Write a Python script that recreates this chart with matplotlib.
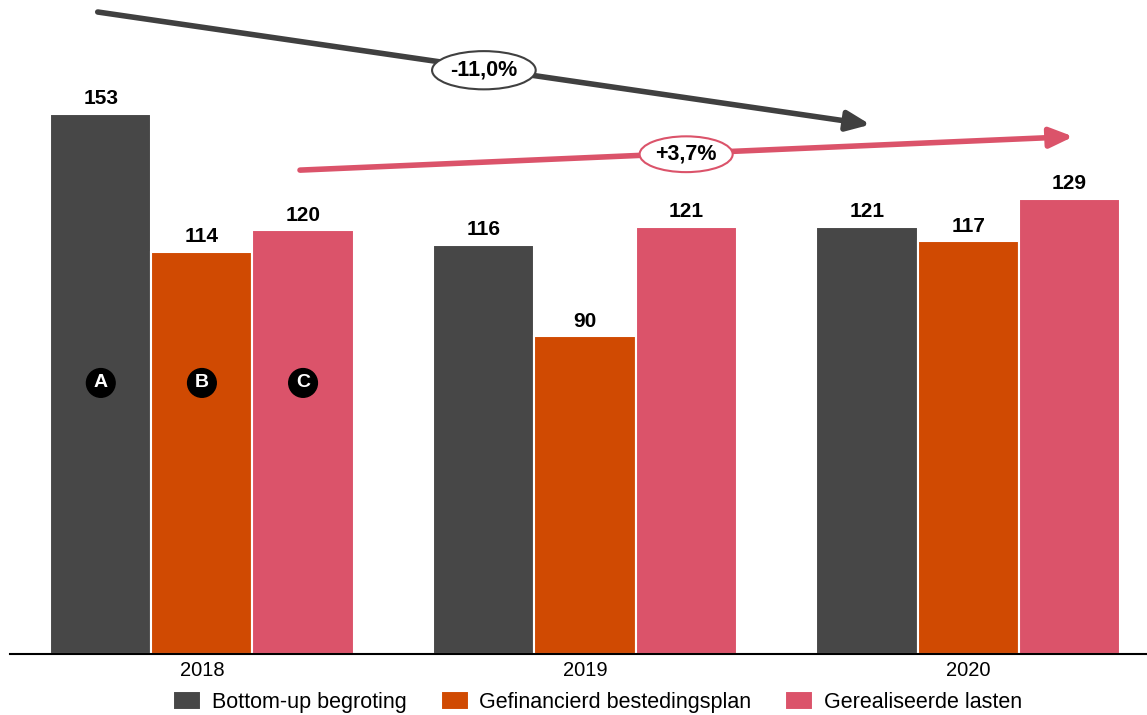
import numpy as np
import matplotlib.pyplot as plt

plt.rcParams['font.family'] = ['Liberation Sans', 'DejaVu Sans']

## Data
jaren = ['2018', '2019', '2020']
series = ['Bottom-up begroting', 'Gefinancierd bestedingsplan', 'Gerealiseerde lasten']
bottom_up = [153, 116, 121]
gefinancierd = [114, 90, 117]
gerealiseerd = [120, 121, 129]
markers = ['A', 'B', 'C']
trend_labels = ['-11,0%', '+3,7%']

kleuren = ['#474747', '#D04A02', '#DB536A']

fig = plt.figure(figsize=(11.47, 7.15), dpi=100)
ax = fig.add_axes([10/1147, 61/715, 1137/1147, 654/715])

x = np.arange(len(jaren))
slot = 0.264
for i, (vals, kleur, naam) in enumerate(zip([bottom_up, gefinancierd, gerealiseerd], kleuren, series)):
    pos = x + (i - 1) * slot
    ax.bar(pos, vals, width=slot, color=kleur, edgecolor='white', linewidth=1.5, label=naam)
    for p, v in zip(pos, vals):
        ax.annotate(str(v), (p, v), xytext=(0, 4), textcoords='offset points',
                    ha='center', va='bottom', fontsize=15, fontweight='bold')
    # letter markers in 2018 group
    ax.text(pos[0], 76.8, markers[i], ha='center', va='center', fontsize=14, fontweight='bold',
            color='white', bbox=dict(boxstyle='circle,pad=0.3', fc='black', ec='black'))

# trend arrows
pijl = '-|>,head_length=1.4,head_width=0.6'
ax.annotate('', xy=(1.745, 150.0), xytext=(-0.272, 181.9),
            arrowprops=dict(arrowstyle=pijl, color='#404040', lw=4,
                            shrinkA=0, shrinkB=0), annotation_clip=False)
ax.annotate('', xy=(2.275, 146.6), xytext=(0.256, 137.1),
            arrowprops=dict(arrowstyle=pijl, color='#DB536A', lw=4,
                            shrinkA=0, shrinkB=0), annotation_clip=False)
ax.text(0.736, 165.4, trend_labels[0], ha='center', va='center', fontsize=15.5, fontweight='bold',
        bbox=dict(boxstyle='ellipse,pad=0.14', fc='white', ec='#404040', lw=1.5))
ax.text(1.264, 141.6, trend_labels[1], ha='center', va='center', fontsize=15.5, fontweight='bold',
        bbox=dict(boxstyle='ellipse,pad=0.1', fc='white', ec='#DB536A', lw=1.5))

ax.set_xlim(-0.501, 2.467)
ax.set_ylim(0, 185.3)
ax.set_xticks(x)
ax.set_xticklabels(jaren, fontsize=14.5)
ax.tick_params(axis='x', length=0, pad=5)
ax.set_yticks([])
for s in ['top', 'right', 'left']:
    ax.spines[s].set_visible(False)
ax.spines['bottom'].set_linewidth(1.5)

fig.legend(loc='lower center', ncol=3, frameon=False, fontsize=15.5, bbox_to_anchor=(0.521, -0.024),
           handlelength=1.3, handleheight=1.0, columnspacing=1.6, handletextpad=0.47)

plt.savefig('out.png', dpi=100)
